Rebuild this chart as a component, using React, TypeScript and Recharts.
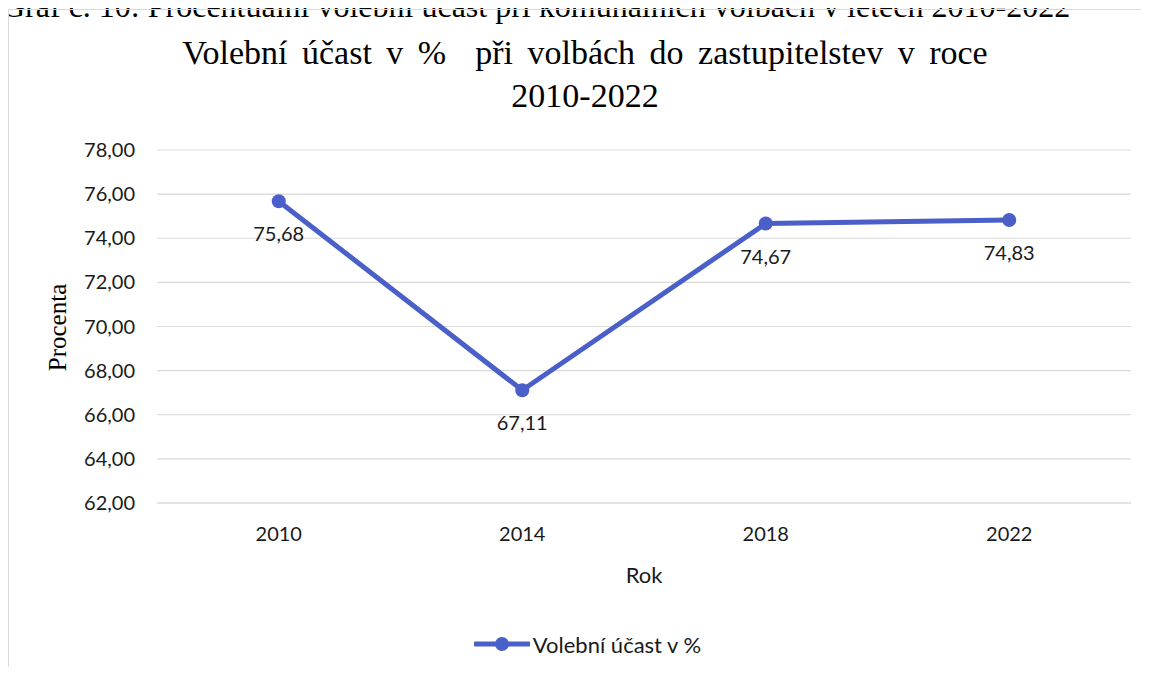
import { LineChart, Line, XAxis, YAxis, CartesianGrid, Legend, LabelList } from "recharts";

const years = ["2010", "2014", "2018", "2022"];
const turnout = [75.68, 67.11, 74.67, 74.83];
const yTicks = [62, 64, 66, 68, 70, 72, 74, 76, 78];

const seriesName = "Volební účast v %";
const lineColor = "#4A60C8";
const sans = "Lato, 'Noto Sans', sans-serif";
const serif = "'Liberation Serif', 'DejaVu Serif', serif";

const data = years.map((year, i) => ({ year, turnout: turnout[i] }));

const fmt = (v: number) => v.toFixed(2).replace(".", ",");

function LegendContent({ payload }: any) {
  return (
    <div style={{ display: "flex", justifyContent: "center", alignItems: "center", height: 26, paddingLeft: 35 }}>
      {(payload || []).map((p: any) => (
        <div key={p.value} style={{ display: "flex", alignItems: "center" }}>
          <svg width={56} height={20}>
            <line x1={1} y1={10} x2={55} y2={10} stroke={p.color} strokeWidth={5} strokeLinecap="round" />
            <circle cx={28} cy={10} r={7} fill={p.color} />
          </svg>
          <span style={{ fontFamily: sans, fontSize: 22, color: "#1a1a1a", marginLeft: 3 }}>{p.value}</span>
        </div>
      ))}
    </div>
  );
}

export default function App() {
  return (
    <div style={{ position: "relative", paddingTop: 1 }}>
      <div
        style={{
          position: "absolute",
          left: -6,
          top: -17,
          fontFamily: serif,
          fontSize: 32,
          lineHeight: "30px",
          whiteSpace: "nowrap",
          color: "#000",
        }}
      >
        Graf č. 10: Procentuální volební účast při komunálních volbách v letech 2010-2022
      </div>
      <div
        style={{
          position: "relative",
          width: 1132,
          height: 657,
          borderLeft: "1px solid #d9d9d9",
          borderTop: "1px solid #d9d9d9",
        }}
      >
        <div
          style={{
            position: "absolute",
            left: 76,
            top: 21,
            width: 1000,
            textAlign: "center",
            fontFamily: serif,
            fontSize: 34,
            lineHeight: "43px",
            wordSpacing: 6,
            whiteSpace: "pre",
            color: "#000",
            zIndex: 2,
          }}
        >
          {"Volební účast v %  při volbách do zastupitelstev v roce\n2010-2022"}
        </div>
        <LineChart width={1132} height={657} data={data} margin={{ top: 140, right: 10, bottom: 10, left: 0 }}>
          <CartesianGrid vertical={false} stroke="#d9d9d9" strokeWidth={1.2} />
          <XAxis
            dataKey="year"
            height={128}
            padding={{ left: 121.75, right: 121.75 }}
            axisLine={{ stroke: "#d9d9d9", strokeWidth: 1.2 }}
            tickLine={false}
            tickSize={8}
            tickMargin={16}
            tick={{ fill: "#1a1a1a", fontSize: 20, fontFamily: sans }}
            label={(props: any) => {
              const vb = props.viewBox;
              return (
                <text
                  x={vb.x + vb.width / 2}
                  y={vb.y + 71}
                  textAnchor="middle"
                  dominantBaseline="central"
                  fontFamily={sans}
                  fontSize={22}
                  fill="#1a1a1a"
                >
                  Rok
                </text>
              );
            }}
          />
          <YAxis
            width={148}
            domain={[62, 78]}
            ticks={yTicks}
            axisLine={false}
            tickLine={false}
            tickSize={8}
            tickMargin={14}
            tickFormatter={fmt}
            tick={{ fill: "#1a1a1a", fontSize: 20, fontFamily: sans }}
            label={(props: any) => {
              const vb = props.viewBox;
              const cx = vb.x + 48;
              const cy = vb.y + vb.height / 2 + 1;
              return (
                <text
                  x={cx}
                  y={cy}
                  transform={`rotate(-90 ${cx} ${cy})`}
                  textAnchor="middle"
                  dominantBaseline="central"
                  fontFamily={serif}
                  fontSize={25}
                  fill="#000"
                >
                  Procenta
                </text>
              );
            }}
          />
          <Legend verticalAlign="bottom" content={<LegendContent />} />
          <Line
            type="linear"
            dataKey="turnout"
            name={seriesName}
            stroke={lineColor}
            strokeWidth={5}
            dot={{ r: 7, fill: lineColor, stroke: "none" }}
            activeDot={false}
            isAnimationActive={false}
          >
            <LabelList
              dataKey="turnout"
              position="bottom"
              offset={26}
              formatter={(v: any) => fmt(Number(v))}
              style={{ fill: "#1a1a1a", fontSize: 20, fontFamily: sans }}
            />
          </Line>
        </LineChart>
      </div>
    </div>
  );
}
